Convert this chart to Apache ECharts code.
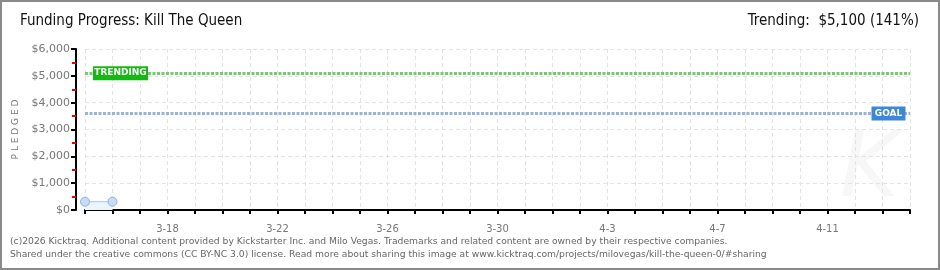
<!DOCTYPE html>
<html><head><meta charset="utf-8">
<script src="https://cdn.jsdelivr.net/npm/echarts@6/dist/echarts.min.js"></script>
<style>html,body{margin:0;padding:0;background:#fff}#c{width:940px;height:270px}</style>
</head><body><div id="c"></div>
<script>
var titleText = 'Funding Progress: Kill The Queen';
var trendingText = 'Trending:  $5,100 (141%)';
var categories = ['3-15','3-16','3-17','3-18','3-19','3-20','3-21','3-22','3-23','3-24','3-25','3-26','3-27','3-28','3-29','3-30','3-31','4-1','4-2','4-3','4-4','4-5','4-6','4-7','4-8','4-9','4-10','4-11','4-12','4-13','4-14'];
var tickLabels = ['3-18','3-22','3-26','3-30','4-3','4-7','4-11'];
var pledged = [310, 310];
var goalValue = 3600;
var trendingValue = 5100;
var yTicks = [0,1000,2000,3000,4000,5000,6000];
var footer1 = '(c)2026 Kicktraq. Additional content provided by Kickstarter Inc. and Milo Vegas. Trademarks and related content are owned by their respective companies.';
var footer2 = 'Shared under the creative commons (CC BY-NC 3.0) license. Read more about sharing this image at www.kicktraq.com/projects/milovegas/kill-the-queen-0/#sharing';

var chart = echarts.init(document.getElementById('c'), null, {renderer:'canvas'});
var labelFont = 'DejaVu Sans';
chart.setOption({
  animation:false,
  backgroundColor:'#fff',
  grid:{left:85,right:30,top:49,bottom:60},
  graphic:[
    {type:'rect',shape:{x:1,y:1,width:938,height:268},style:{fill:'none',stroke:'#8a8a8a',lineWidth:2},z:100},
    {type:'text',left:20,top:14,style:{text:titleText,font:'15px "DejaVu Sans Condensed"',fill:'#111'}},
    {type:'text',right:21,top:14,style:{text:trendingText,font:'15px "DejaVu Sans Condensed"',fill:'#111'}},
    {type:'text',left:10,top:237,style:{text:footer1,font:'9.2px "DejaVu Sans"',fill:'#666'}},
    {type:'text',left:10,top:250,style:{text:footer2,font:'9.2px "DejaVu Sans"',fill:'#666'}},
    {type:'text',left:840,top:128,style:{text:'K',font:'italic 90px "DejaVu Sans"',fill:'#f7f7f7'},z:0}
  ],
  xAxis:{
    type:'category',data:categories,boundaryGap:false,offset:10,
    axisLine:{lineStyle:{color:'#000',width:2}},
    axisTick:{show:true,length:4,interval:0,lineStyle:{color:'#000',width:2}},
    axisLabel:{color:'#777',fontFamily:labelFont,fontSize:10,margin:4,
      interval:function(i,v){return tickLabels.indexOf(v)>=0;}},
    splitLine:{show:true,interval:0,lineStyle:{color:'#e3e3e3',type:[4,3]}}
  },
  yAxis:{
    type:'value',min:yTicks[0],max:yTicks[yTicks.length-1],interval:1000,offset:9,
    name:'P L E D G E D',nameLocation:'middle',nameGap:52,nameRotate:90,
    nameTextStyle:{color:'#777',fontFamily:labelFont,fontSize:9},
    axisLine:{show:true,lineStyle:{color:'#000',width:2}},
    axisTick:{show:true,length:5,lineStyle:{color:'#000',width:2}},
    minorTick:{show:true,splitNumber:2,length:4,lineStyle:{color:'#e00',width:2}},
    axisLabel:{color:'#777',fontFamily:labelFont,fontSize:11,margin:6,
      formatter:function(v){return '$'+v.toLocaleString('en-US');}},
    splitLine:{show:true,lineStyle:{color:'#e3e3e3',type:[4,3]}}
  },
  series:[{
    type:'line',data:pledged,symbol:'circle',symbolSize:9,
    itemStyle:{color:'#c6dcf5',borderColor:'#8fb1dd',borderWidth:1},
    lineStyle:{color:'#a9c7ea',width:1},
    areaStyle:{color:'#ebf3fc',opacity:1},
    markLine:{silent:true,symbol:['none','none'],
      data:[
        {yAxis:trendingValue,lineStyle:{color:'#72cc6c',width:3,type:[3,1.5]},label:{show:false}},
        {yAxis:goalValue,lineStyle:{color:'#94b4dc',width:3,type:[3,1.5]},label:{show:false}}
      ]},
    markPoint:{silent:true,symbol:'rect',
      data:[
        {coord:[1,trendingValue],symbolSize:[55,14],symbolOffset:[8,0],itemStyle:{color:'#17b814'},
          label:{show:true,formatter:'TRENDING',color:'#fff',fontFamily:labelFont,fontSize:9,fontWeight:'bold'}},
        {coord:[29,goalValue],symbolSize:[34,14],symbolOffset:[6,0],itemStyle:{color:'#3d87d8'},
          label:{show:true,formatter:'GOAL',color:'#fff',fontFamily:labelFont,fontSize:9,fontWeight:'bold'}}
      ]}
  }]
});
</script></body></html>
